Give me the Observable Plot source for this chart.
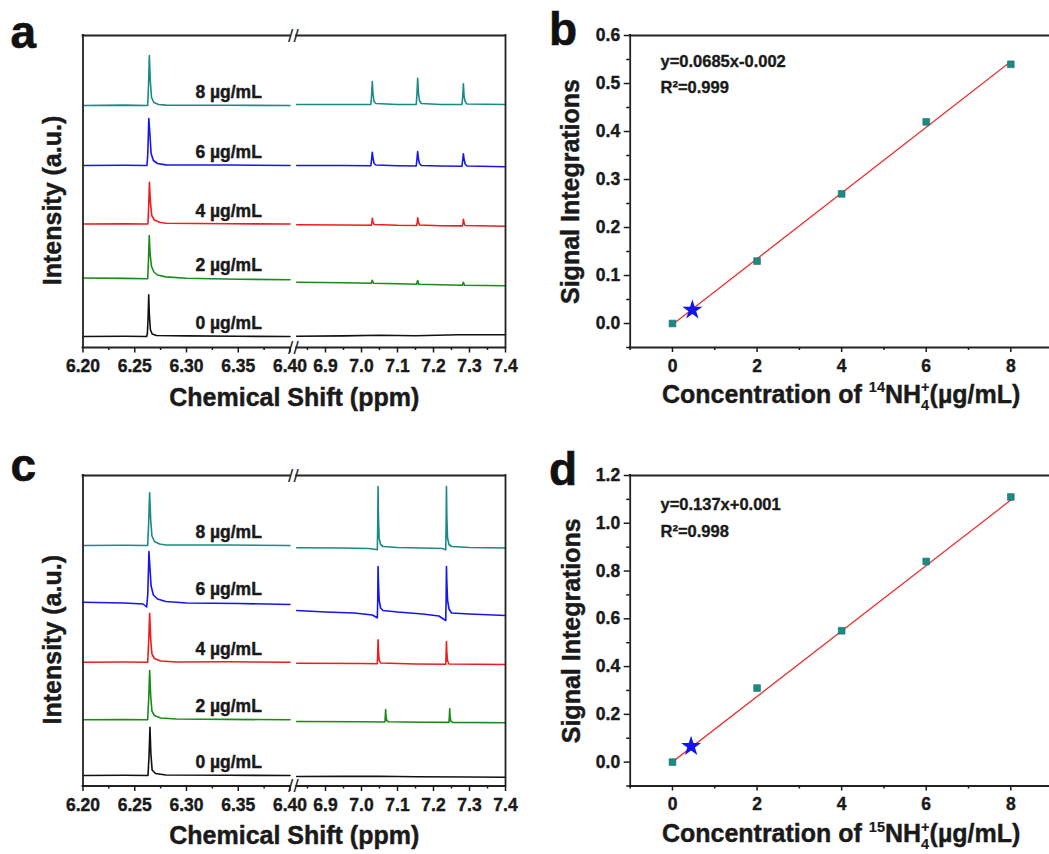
<!DOCTYPE html>
<html><head><meta charset="utf-8">
<script src="https://cdn.jsdelivr.net/npm/d3@7"></script>
<script src="https://cdn.jsdelivr.net/npm/@observablehq/plot@0.6"></script>
<style>
html,body{margin:0;padding:0;background:#fff;overflow:hidden}
#fig{position:relative;width:1049px;height:854px;overflow:hidden;background:#fff;font-family:"Liberation Sans",Arial,Helvetica,sans-serif;font-weight:bold;color:#1a1a1a}
.panel{position:absolute;left:0;top:0}
.letter{position:absolute;font-size:46px;line-height:46px;font-weight:bold;color:#111;-webkit-text-stroke:0.6px #111}
.xt{position:absolute;text-align:center;font-size:25px;line-height:25px;font-weight:bold;white-space:nowrap;color:#1a1a1a;-webkit-text-stroke:0.4px #1a1a1a}
.xt sup,.xt sub{font-size:0.58em;line-height:0;vertical-align:baseline;position:relative;-webkit-text-stroke:0.2px #1a1a1a}
.xt sup{top:-0.72em}
.xt sub{top:0.5em}
.xt sup.pl{margin-left:-0.556em}
</style></head>
<body><div id="fig"></div>
<script>
// ---------- data ----------
const concLabels = ["0 µg/mL", "2 µg/mL", "4 µg/mL", "6 µg/mL", "8 µg/mL"];
const traceColors = ["#111111", "#1a8a1a", "#ee1c1c", "#1515ee", "#1b8a84"];

// x ticks of the broken chemical-shift axis
const leftTicks = [6.20, 6.25, 6.30, 6.35, 6.40];
const leftMinor = [6.225, 6.275, 6.325, 6.375];
const rightTicks = [6.9, 7.0, 7.1, 7.2, 7.3, 7.4];
const rightMinor = [6.85, 6.95, 7.05, 7.15, 7.25, 7.35];

// Panel a: spectra (14NH4+), [ppm, intensity a.u.], order 0,2,4,6,8 µg/mL
const aLeftTraces = [
  [[6.2,11],[6.24,11.3],[6.2615,11],[6.2622,14],[6.2629,30],[6.2635,52.7],[6.2641,33],[6.2651,18],[6.2668,13.5],[6.271,12],[6.30,11.6],[6.35,11.2],[6.4,11]],
  [[6.2,69.5],[6.24,69.1],[6.2625,68.8],[6.2633,88],[6.2640,112],[6.2649,93],[6.2662,81],[6.2685,75.5],[6.272,72.5],[6.28,70.6],[6.30,69.2],[6.35,68.3],[6.4,67.8]],
  [[6.2,123.5],[6.24,123.6],[6.2627,123.5],[6.2635,142],[6.2642,165.3],[6.2651,146],[6.2664,132],[6.269,127.5],[6.274,125.2],[6.28,124.2],[6.34,123.8],[6.4,123.5]],
  [[6.2,182],[6.24,182.2],[6.2618,182],[6.2626,194],[6.2636,229],[6.2646,214],[6.2658,194],[6.268,187],[6.272,184],[6.28,182.6],[6.34,182.5],[6.4,182]],
  [[6.2,242],[6.24,242.4],[6.2625,242],[6.2633,262],[6.2641,292],[6.2650,267],[6.2662,250],[6.2685,245],[6.273,243],[6.28,242.4],[6.34,242.3],[6.4,242]]
];
const aRightTraces = [
  [[6.82,11.3],[6.95,11.6],[7.05,12.3],[7.15,11.8],[7.27,12.8],[7.4,12.7]],
  [[6.82,65.3],[6.95,64.7],[7.027,64.3],[7.030,67.3],[7.033,64.3],[7.10,63.7],[7.153,63.3],[7.156,67],[7.159,63.3],[7.22,62.8],[7.280,62.3],[7.283,65.3],[7.286,62.3],[7.4,61.7]],
  [[6.82,122.7],[6.95,122.5],[7.027,122.3],[7.029,125],[7.030,129.3],[7.032,125.5],[7.035,123],[7.10,122.2],[7.153,122],[7.155,125],[7.156,129.7],[7.158,125.5],[7.161,122.5],[7.22,121.8],[7.280,121.6],[7.282,124],[7.283,128.3],[7.285,124.5],[7.288,122],[7.4,121.3]],
  [[6.82,182],[6.95,182],[7.026,181.8],[7.028,188],[7.030,195.3],[7.032,189],[7.035,184],[7.04,182.5],[7.10,181.8],[7.152,181.5],[7.154,188],[7.156,196],[7.158,189],[7.161,184],[7.166,182],[7.22,181.5],[7.279,181.2],[7.281,187],[7.283,193.7],[7.285,188],[7.288,183.5],[7.293,181.5],[7.4,180.8]],
  [[6.82,243],[6.95,243],[7.026,243],[7.028,252],[7.030,266],[7.032,253],[7.035,246],[7.04,244],[7.10,243],[7.152,243],[7.154,253],[7.156,269.3],[7.158,255],[7.161,247],[7.166,244],[7.22,243],[7.279,243],[7.281,250],[7.283,263.7],[7.285,251],[7.288,246],[7.293,243.5],[7.4,243]]
];

// Panel c: spectra (15NH4+), [ppm, intensity a.u.], order 0,2,4,6,8 µg/mL
const cLeftTraces = [
  [[6.2,10.5],[6.24,10.8],[6.2628,10.5],[6.2638,30],[6.2647,58.8],[6.2656,32],[6.2668,16],[6.270,12.5],[6.28,11],[6.34,10.8],[6.4,10.5]],
  [[6.2,66.2],[6.24,66.4],[6.2625,66.2],[6.2635,88],[6.2644,115.5],[6.2654,90],[6.2666,75],[6.269,70.5],[6.275,68],[6.29,67],[6.34,66.6],[6.4,66.2]],
  [[6.2,123.8],[6.24,124],[6.2625,123.8],[6.2635,145],[6.2644,172.8],[6.2654,147],[6.2666,132],[6.269,127.5],[6.275,125],[6.29,124],[6.34,124.2],[6.4,123.8]],
  [[6.2,183.8],[6.24,183],[6.258,182],[6.2615,179],[6.2626,192],[6.2637,234.5],[6.2647,218],[6.2658,200],[6.268,191],[6.272,187],[6.28,184.5],[6.30,183],[6.35,182.5],[6.4,181.5]],
  [[6.2,240.5],[6.24,240.8],[6.2625,240.5],[6.2634,262],[6.2644,293.2],[6.2654,266],[6.2666,250],[6.269,244.5],[6.274,242],[6.28,241],[6.34,241],[6.4,240.5]]
];
const cRightTraces = [
  [[6.82,9.5],[6.95,9.6],[7.05,9.8],[7.15,9.2],[7.3,9.0],[7.4,8.8]],
  [[6.82,64.5],[7.0,64.2],[7.065,64],[7.066,69],[7.067,76.5],[7.068,70],[7.070,65.5],[7.075,64.2],[7.17,63.8],[7.243,63.6],[7.244,69],[7.245,77.2],[7.246,70],[7.248,65],[7.253,63.6],[7.4,63.2]],
  [[6.82,122.8],[7.0,122.5],[7.044,122.2],[7.045,132],[7.046,146.2],[7.047,136],[7.049,126],[7.053,123],[7.15,122],[7.234,121.8],[7.235,131],[7.236,144.5],[7.237,134],[7.239,125],[7.243,122],[7.4,121.5]],
  [[6.82,175.5],[6.90,174],[6.98,173],[7.03,171],[7.044,168.2],[7.045,185],[7.046,219.5],[7.047,205],[7.049,186],[7.053,178],[7.06,175.5],[7.10,174],[7.17,172],[7.215,170],[7.234,165.5],[7.235,185],[7.236,219.5],[7.237,205],[7.239,186],[7.243,177],[7.25,173],[7.30,172],[7.4,170.5]],
  [[6.82,238.2],[6.95,238],[7.02,237.5],[7.040,236.5],[7.044,236.2],[7.045,260],[7.046,299.5],[7.047,270],[7.049,248],[7.053,241.5],[7.06,239.5],[7.10,238.5],[7.17,238],[7.225,237.5],[7.234,236.2],[7.235,260],[7.236,299.5],[7.237,270],[7.239,248],[7.243,241.5],[7.25,239.5],[7.30,238.5],[7.4,238]]
];

// Panels b and d: calibration
const concentrations = [0, 2, 4, 6, 8];
const concTicks = [0, 2, 4, 6, 8];
const concMinor = [-1, 1, 3, 5, 7, 9];
const bSignal = [0, 0.13, 0.27, 0.42, 0.54];
const dSignal = [0, 0.31, 0.55, 0.84, 1.11];
const bSample = [0.47, 0.028];
const dSample = [0.44, 0.066];
const bFit = [[0, -0.002], [8, 0.546]];
const dFit = [[0, 0.001], [8, 1.097]];
const bEquation = ["y=0.0685x-0.002", "R²=0.999"];
const dEquation = ["y=0.137x+0.001", "R²=0.998"];
const bYTicks = [0, 0.1, 0.2, 0.3, 0.4, 0.5, 0.6];
const bYMinor = [-0.05, 0.05, 0.15, 0.25, 0.35, 0.45, 0.55];
const dYTicks = [0, 0.2, 0.4, 0.6, 0.8, 1.0, 1.2];
const dYMinor = [-0.1, 0.1, 0.3, 0.5, 0.7, 0.9, 1.1];

// ---------- drawing ----------
const fig = document.getElementById("fig");
const FONT = "'Liberation Sans', Arial, Helvetica, sans-serif";
const svgStyle = `font-family:${FONT};font-weight:bold;color:#1a1a1a;background:transparent;overflow:visible;max-width:none;`;
const FRAME = "#222";
const INK = "#1a1a1a";
const frameOpts = {stroke: FRAME, strokeWidth: 1.8, strokeLinecap: "square"};
const heavy = {stroke: INK, strokeWidth: 0.45};
const H = 854;

function place(node) {
  const div = document.createElement("div");
  div.className = "panel";
  div.appendChild(node);
  fig.appendChild(div);
}
function html(cls, style, inner) {
  const div = document.createElement("div");
  div.className = cls;
  div.setAttribute("style", style);
  div.innerHTML = inner;
  fig.appendChild(div);
}

const toRows = ts => ts.flatMap((t, i) => t.map(([x, y]) => ({x, y, c: concLabels[i]})));

function spectrumPanel(top, bottom, yMax, leftTraces, rightTraces) {
  const common = {
    width: 1049, height: H, marginTop: top, marginBottom: H - bottom, style: svgStyle,
    y: {domain: [0, yMax], axis: null},
    color: {domain: concLabels, range: traceColors}
  };
  const tickText = {fontSize: 17.5, fontWeight: "bold", strokeWidth: 1.5, label: null, tickSize: 5.5, tickPadding: 7, textStroke: INK, textStrokeWidth: 0.4};
  const minorOpts = {tickSize: 3, fill: "none", strokeWidth: 1.5, label: null};
  const breakOpts = {textAnchor: "middle", lineAnchor: "middle", fontSize: 19, fontWeight: "normal", fill: FRAME, dx: 3.4};
  place(Plot.plot({
    ...common, marginLeft: 82.5, marginRight: 1049 - 289.5,
    x: {domain: [6.2, 6.4], label: null},
    marks: [
      Plot.line(toRows(leftTraces), {x: "x", y: "y", z: "c", stroke: "c", strokeWidth: 1.6, strokeLinejoin: "round"}),
      Plot.ruleY([0, yMax], frameOpts),
      Plot.ruleX([6.2], frameOpts),
      Plot.axisX(leftTicks, {...tickText, tickFormat: d3.format(".2f")}),
      Plot.axisX(leftMinor, minorOpts),
      Plot.text(leftTraces.map((t, i) => ({c: concLabels[i], y: t[0][1]})),
        {x: () => 6.3407, y: "y", text: "c", dy: -13, fontSize: 17.5, fontWeight: "bold", fill: INK, ...heavy}),
      Plot.text(["//"], {...breakOpts, frameAnchor: "top-right"}),
      Plot.text(["//"], {...breakOpts, frameAnchor: "bottom-right"})
    ]
  }));
  place(Plot.plot({
    ...common, marginLeft: 296.2, marginRight: 1049 - 505,
    x: {domain: [6.82, 7.4], label: null},
    marks: [
      Plot.line(toRows(rightTraces), {x: "x", y: "y", z: "c", stroke: "c", strokeWidth: 1.6, strokeLinejoin: "round"}),
      Plot.ruleY([0, yMax], frameOpts),
      Plot.ruleX([7.4], frameOpts),
      Plot.axisX(rightTicks, {...tickText, tickFormat: d3.format(".1f")}),
      Plot.axisX(rightMinor, minorOpts)
    ]
  }));
  // axis titles centred on the whole broken frame
  place(Plot.plot({
    width: 1049, height: H, marginTop: top, marginBottom: H - bottom, marginLeft: 82.5, marginRight: 1049 - 505, style: svgStyle,
    marks: [
      Plot.text(["Chemical Shift (ppm)"], {frameAnchor: "bottom", dy: 50, lineAnchor: "middle", fontSize: 25, fontWeight: "bold", fill: INK, ...heavy}),
      Plot.text(["Intensity (a.u.)"], {frameAnchor: "left", rotate: -90, dx: -30, dy: 9, textAnchor: "middle", lineAnchor: "middle", fontSize: 25, fontWeight: "bold", fill: INK, ...heavy})
    ]
  }));
}

function calibPanel(top, bottom, yDomain, yTicks, yMinor, signal, sample, fit, eq, eqDy, titleDx) {
  const W = 1060;
  const pts = concentrations.map((c, i) => ({c, s: signal[i]}));
  const txt = {fontSize: 16.5, fontWeight: "bold", fill: INK, stroke: INK, strokeWidth: 0.35, textAnchor: "start", lineAnchor: "middle", frameAnchor: "top-left", dx: 30.3};
  place(Plot.plot({
    width: W, height: H, marginLeft: 629.7, marginRight: W - 1052.6, marginTop: top, marginBottom: H - bottom, style: svgStyle,
    x: {domain: [-1, 9], label: null},
    y: {domain: yDomain, label: null},
    marks: [
      Plot.ruleX([-1, 9], frameOpts),
      Plot.ruleY(yDomain, frameOpts),
      Plot.axisY(yTicks, {anchor: "left", tickSize: 6, tickPadding: 4, tickFormat: d3.format(".1f"), fontSize: 17.5, fontWeight: "bold", strokeWidth: 1.5, label: null, textStroke: INK, textStrokeWidth: 0.4}),
      Plot.axisY(yMinor, {anchor: "left", tickSize: 3.5, fill: "none", strokeWidth: 1.5, label: null}),
      Plot.axisX(concTicks, {tickSize: 5, tickPadding: 7, tickFormat: d3.format("d"), fontSize: 17.5, fontWeight: "bold", strokeWidth: 1.5, label: null, textStroke: INK, textStrokeWidth: 0.4}),
      Plot.axisX(concMinor, {tickSize: 3, fill: "none", strokeWidth: 1.5, label: null}),
      Plot.line(fit, {x: d => d[0], y: d => d[1], stroke: "#e8383a", strokeWidth: 1.3}),
      Plot.dot(pts, {x: "c", y: "s", symbol: "square", r: 3.8, fill: "#1b8a84", stroke: "#146e69", strokeWidth: 0.6}),
      Plot.dot([sample], {x: d => d[0], y: d => d[1], symbol: "star", r: 6.3, fill: "#1414f0"}),
      Plot.text([eq[0]], {...txt, dy: eqDy[0]}),
      Plot.text([eq[1]], {...txt, dy: eqDy[1]}),
      Plot.text(["Signal Integrations"], {frameAnchor: "left", rotate: -90, dx: titleDx, textAnchor: "middle", lineAnchor: "middle", fontSize: 25, fontWeight: "bold", fill: INK, ...heavy})
    ]
  }));
}

spectrumPanel(35, 347, 312, aLeftTraces, aRightTraces);
spectrumPanel(475, 785.5, 310.5, cLeftTraces, cRightTraces);
calibPanel(35, 347, [-0.05, 0.6], bYTicks, bYMinor, bSignal, bSample, bFit, bEquation, [26.7, 52.3], -59.7);
calibPanel(475, 785.5, [-0.1, 1.2], dYTicks, dYMinor, dSignal, dSample, dFit, dEquation, [29, 56.7], -58);

html("xt", "left:629.7px;width:422.9px;top:381.8px", "Concentration of <sup>14</sup>NH<sub>4</sub><sup class=\"pl\">+</sup>(µg/mL)");
html("xt", "left:629.7px;width:422.9px;top:821px", "Concentration of <sup>15</sup>NH<sub>4</sub><sup class=\"pl\">+</sup>(µg/mL)");
html("letter", "left:10.5px;top:9px", "a");
html("letter", "left:549px;top:6px", "b");
html("letter", "left:10.5px;top:442px", "c");
html("letter", "left:549px;top:446px", "d");
</script></body></html>
